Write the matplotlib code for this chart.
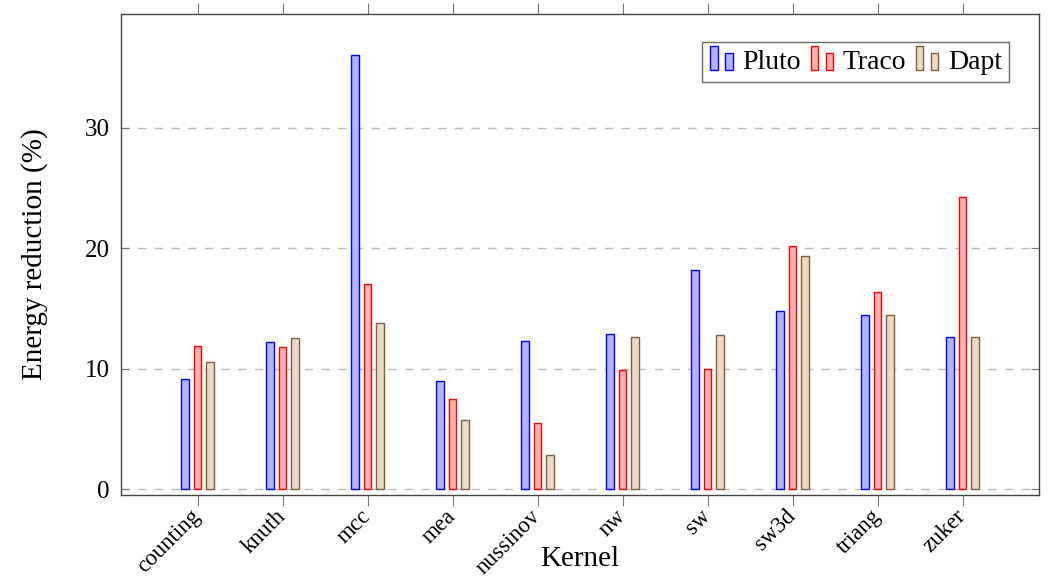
import matplotlib
matplotlib.use("Agg")
import matplotlib.pyplot as plt
import numpy as np
from matplotlib.patches import Rectangle
from matplotlib.legend_handler import HandlerBase

kernels = ["counting", "knuth", "mcc", "mea", "nussinov",
           "nw", "sw", "sw3d", "triang", "zuker"]
pluto = [9.15, 12.22, 36.04, 8.99, 12.28, 12.91, 18.23, 14.80, 14.44, 12.66]
traco = [11.92, 11.84, 17.04, 7.49, 5.53, 9.87, 9.98, 20.22, 16.40, 24.26]
dapt = [10.59, 12.53, 13.78, 5.78, 2.82, 12.67, 12.80, 19.39, 14.44, 12.66]
series_names = ["Pluto", "Traco", "Dapt"]

# (edge, fill) per series, pgfplots-like "color!30" fills
styles = [("#0000ff", "#b3b3ff"), ("#ff0000", "#ffb3b3"), ("#7f5f3f", "#ecd9c6")]

plt.rcParams['font.family'] = ['Liberation Serif', 'DejaVu Serif']


class TwoBarHandler(HandlerBase):
    # ybar legend image: two little bars of different height
    def create_artists(self, legend, orig_handle, xdescent, ydescent,
                       width, height, fontsize, trans):
        ec = orig_handle.get_edgecolor()
        fc = orig_handle.get_facecolor()
        w = width * 0.28
        r1 = Rectangle((-xdescent + width * 0.05, -ydescent - height * 0.05), w, height * 1.2,
                       facecolor=fc, edgecolor=ec, lw=1.0, transform=trans)
        r2 = Rectangle((-xdescent + width * 0.62, -ydescent - height * 0.05), w, height * 0.85,
                       facecolor=fc, edgecolor=ec, lw=1.0, transform=trans)
        return [r1, r2]


fig = plt.figure(figsize=(10.49, 5.77), dpi=100)
ax = fig.add_axes([121 / 1049, 1 - 495 / 577, (1039 - 121) / 1049, (495 - 14) / 577])

x = np.arange(len(kernels))
offset = 0.15
bw = 0.094
handles = []
for i, (vals, (ec, fc)) in enumerate(zip([pluto, traco, dapt], styles)):
    bars = ax.bar(x + (i - 1) * offset, vals, width=bw, color=fc, edgecolor=ec,
                  linewidth=1.0, zorder=3)
    handles.append(bars.patches[0])

ax.set_xlim(-0.9, len(kernels) - 1 + 0.9)
ax.set_ylim(-0.47, 39.45)
ax.set_yticks([0, 10, 20, 30])
ax.set_xticks(x)
ax.set_xticklabels(kernels, rotation=45, ha='right', va='center',
                   rotation_mode='anchor')

ax.yaxis.grid(True, linestyle=(0, (6, 6)), color='#bbbbbb', linewidth=1.0, zorder=0)
ax.set_axisbelow(True)

ax.tick_params(axis='x', direction='out', length=8, color='#777777', top=True,
               labelsize=16.5, pad=5)
ax.tick_params(axis='y', direction='in', length=6, color='#777777', right=True,
               labelsize=18, pad=8)
for s in ax.spines.values():
    s.set_color('#444444')
    s.set_linewidth(1.0)

ax.set_xlabel("Kernel", fontsize=21)
ax.set_ylabel("Energy reduction (%)", fontsize=21)
ax.xaxis.set_label_coords(0.5, -0.106)
ax.yaxis.set_label_coords(-0.08, 0.5)

leg = ax.legend(handles, series_names, handler_map={Rectangle: TwoBarHandler()},
                loc='upper right', bbox_to_anchor=(0.967, 0.941), ncol=3,
                fontsize=20, frameon=True, fancybox=False, edgecolor='#444444',
                handlelength=0.95, handletextpad=0.25, columnspacing=0.3,
                borderpad=0.25, borderaxespad=0)
leg.get_frame().set_linewidth(1.0)

fig.savefig("out.png", dpi=100)
